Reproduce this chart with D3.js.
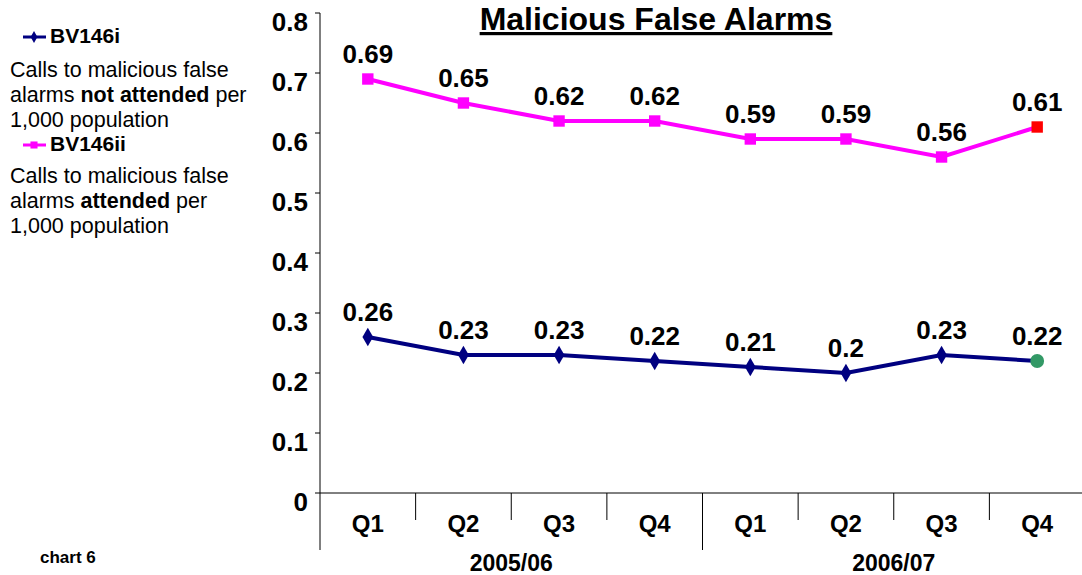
<!DOCTYPE html>
<html><head><meta charset="utf-8">
<script src="https://cdn.jsdelivr.net/npm/d3@7"></script>
<style>body{margin:0;background:#fff;overflow:hidden}svg{display:block;font-family:"Liberation Sans",Arial,sans-serif}</style>
</head><body>
<script>
const quarters = ["Q1","Q2","Q3","Q4","Q1","Q2","Q3","Q4"];
const years = ["2005/06","2006/07"];
const bv146i = [0.26,0.23,0.23,0.22,0.21,0.2,0.23,0.22];
const bv146ii = [0.69,0.65,0.62,0.62,0.59,0.59,0.56,0.61];
const yTicks = [0,0.1,0.2,0.3,0.4,0.5,0.6,0.7,0.8];

const W=1082,H=575;
const svg=d3.select("body").append("svg").attr("width",W).attr("height",H);
const idx=d3.range(quarters.length);
const x=d3.scaleBand().domain(idx).range([320,1085]);
const y=d3.scaleLinear().domain([0,0.8]).range([493,13]);
const cx=i=>x(i)+x.bandwidth()/2;

// y axis
svg.append("line").attr("x1",320).attr("x2",320).attr("y1",y(0.8)).attr("y2",550).attr("stroke","#000").attr("stroke-width",1);
svg.selectAll(".yt").data(yTicks).join("line").attr("x1",315).attr("x2",320).attr("y1",d=>y(d)).attr("y2",d=>y(d)).attr("stroke","#000");
svg.selectAll(".yl").data(yTicks).join("text").attr("x",308).attr("y",d=>y(d)+18).attr("text-anchor","end")
  .attr("font-size",26).attr("font-weight","bold").text(d=>d===0?"0":d3.format(".1f")(d));
// x axis
svg.append("line").attr("x1",320).attr("x2",1085).attr("y1",y(0)).attr("y2",y(0)).attr("stroke","#000");
svg.selectAll(".xt").data(d3.range(1,quarters.length+1)).join("line")
  .attr("x1",d=>320+d*x.bandwidth()).attr("x2",d=>320+d*x.bandwidth())
  .attr("y1",y(0)).attr("y2",d=>d%4===0?550:520).attr("stroke","#000");
svg.selectAll(".ql").data(quarters).join("text").attr("x",(d,i)=>cx(i)).attr("y",532).attr("text-anchor","middle")
  .attr("font-size",24).attr("font-weight","bold").text(d=>d);
svg.selectAll(".yr").data(years).join("text").attr("x",(d,i)=>(cx(i*4+1)+cx(i*4+2))/2).attr("y",571).attr("text-anchor","middle")
  .attr("font-size",23).attr("font-weight","bold").text(d=>d);

// title
svg.append("text").attr("x",656).attr("y",30).attr("text-anchor","middle").attr("font-size",32).attr("font-weight","bold")
  .attr("text-decoration","underline").text("Malicious False Alarms");

const line=d3.line().x((d,i)=>cx(i)).y(d=>y(d));
svg.append("path").datum(bv146ii).attr("d",line).attr("fill","none").attr("stroke","#ff00ff").attr("stroke-width",4);
svg.append("path").datum(bv146i).attr("d",line).attr("fill","none").attr("stroke","#000080").attr("stroke-width",4);

// markers
const sq=d3.symbol().type(d3.symbolSquare).size(130);
svg.selectAll(".m2").data(bv146ii).join("path").attr("transform",(d,i)=>`translate(${cx(i)},${y(d)})`)
  .attr("d",sq).attr("fill",(d,i)=>i===7?"#ff0000":"#ff00ff");
const dm=d3.symbol().type(d3.symbolDiamond).size(100);
const circ=d3.symbol().type(d3.symbolCircle).size(150);
svg.selectAll(".m1").data(bv146i).join("path").attr("transform",(d,i)=>`translate(${cx(i)},${y(d)})`)
  .attr("d",(d,i)=>i===7?circ():dm()).attr("fill",(d,i)=>i===7?"#339966":"#000080");

// data labels
const fmt=d=>String(d);
svg.selectAll(".l2").data(bv146ii).join("text").attr("x",(d,i)=>cx(i)).attr("y",d=>y(d)-16).attr("text-anchor","middle")
  .attr("font-size",26).attr("font-weight","bold").text(fmt);
svg.selectAll(".l1").data(bv146i).join("text").attr("x",(d,i)=>cx(i)).attr("y",d=>y(d)-16).attr("text-anchor","middle")
  .attr("font-size",26).attr("font-weight","bold").text(fmt);

// legend
const lg=svg.append("g");
lg.append("line").attr("x1",23).attr("x2",46).attr("y1",37).attr("y2",37).attr("stroke","#000080").attr("stroke-width",3);
lg.append("path").attr("transform","translate(34,37)").attr("d",d3.symbol().type(d3.symbolDiamond).size(40)).attr("fill","#000080");
lg.append("text").attr("x",50).attr("y",43).attr("font-size",21).attr("font-weight","bold").text("BV146i");
lg.append("line").attr("x1",23).attr("x2",46).attr("y1",145).attr("y2",145).attr("stroke","#ff00ff").attr("stroke-width",3);
lg.append("path").attr("transform","translate(34,145)").attr("d",d3.symbol().type(d3.symbolSquare).size(50)).attr("fill","#ff00ff");
lg.append("text").attr("x",50).attr("y",151).attr("font-size",21).attr("font-weight","bold").text("BV146ii");
function para(y0,parts){
  parts.forEach((ln,k)=>{
    const t=lg.append("text").attr("x",10).attr("y",y0+k*25).attr("font-size",21.5);
    ln.forEach(p=>t.append("tspan").attr("font-weight",p[1]?"bold":"normal").text(p[0]));
  });
}
para(77,[[["Calls to malicious false",0]],[["alarms ",0],["not attended",1],[" per",0]],[["1,000 population",0]]]);
para(183,[[["Calls to malicious false",0]],[["alarms ",0],["attended",1],[" per",0]],[["1,000 population",0]]]);

svg.append("text").attr("x",40).attr("y",563).attr("font-size",17).attr("font-weight","bold").text("chart 6");
</script>
</body></html>
